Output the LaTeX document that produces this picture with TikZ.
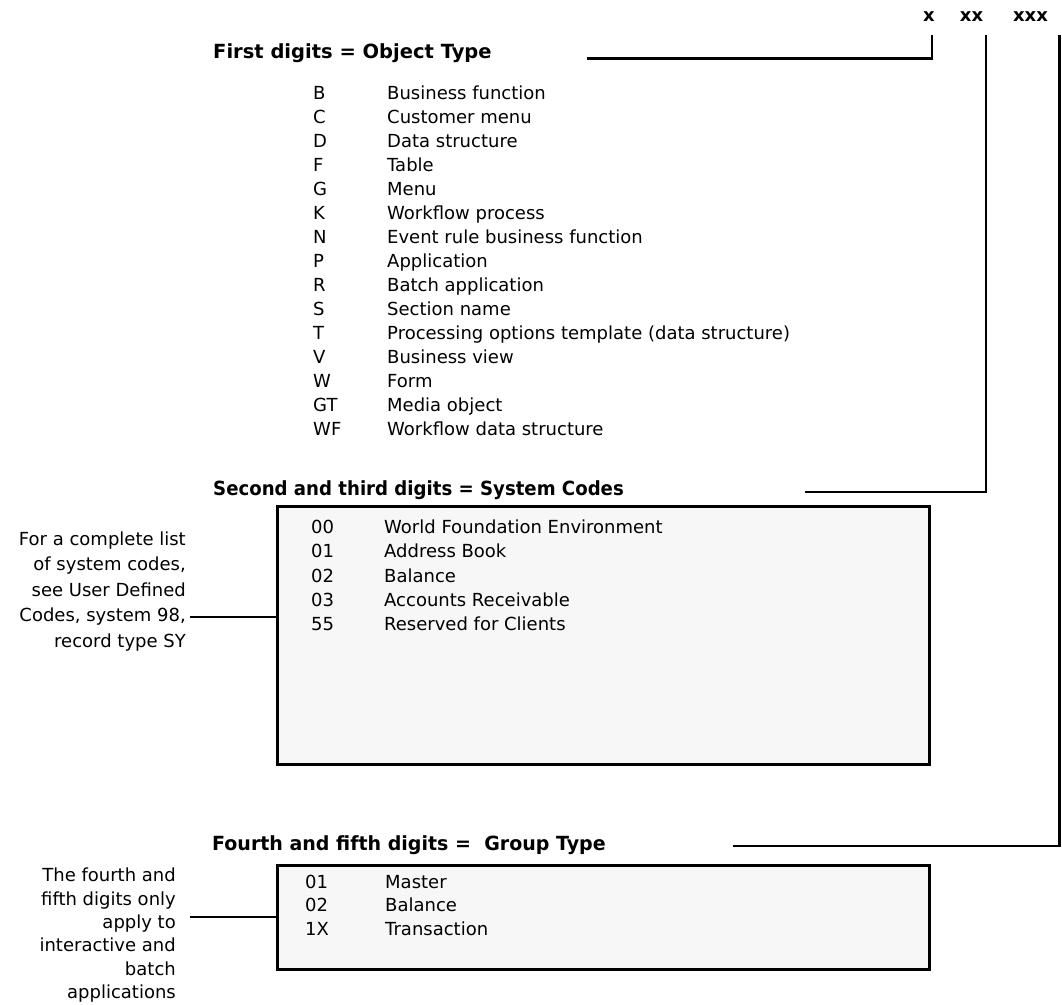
\documentclass[tikz,border=0pt]{standalone}
\usepackage{graphicx}
\usepackage{fontspec}
\setmainfont{DejaVu Sans}
\definecolor{boxgray}{HTML}{F7F7F7}
\tikzset{
  hdr/.style={font=\fontsize{19.5}{24}\selectfont\bfseries, inner sep=0pt, anchor=base west},
  digit/.style={font=\fontsize{18}{24}\selectfont\bfseries, inner sep=0pt, anchor=base},
  body/.style={font=\fontsize{18}{24}\selectfont, inner sep=0pt, anchor=base west},
  note/.style={font=\fontsize{18}{25.5}\selectfont, inner sep=0pt, align=right, anchor=north east},
  panel/.style={draw, line width=2.7pt, fill=boxgray, inner sep=0pt, anchor=north west},
  wire/.style={line width=2.8pt},
}
\begin{document}
\begin{tikzpicture}[x=1pt,y=-1pt]
\fill[white] (0,0) rectangle (1062,1004);
\useasboundingbox (0,0) rectangle (1062,1004);

% digit labels
\node[digit] (xa) at (929,21.7) {x};
\node[digit] (xb) at (971.5,21.7) {xx};
\node[digit] (xc) at (1030.5,21.7) {xxx};
\coordinate (ta) at (932,35);
\coordinate (tb) at (986,35);
\coordinate (tc) at (1059.5,35);

% headers
\node[hdr] (h1) at (213,58) {First digits = Object Type};
\node[hdr] (h2) at (213,495) {\scalebox{0.93}[1]{Second and third digits = System Codes}};
\node[hdr] (h3) at (212,850) {\scalebox{0.975}[1]{Fourth and fifth digits =\ \ Group Type}};
\coordinate (s1) at (587,58.5);
\coordinate (s2) at (805,492);
\coordinate (s3) at (733,846);
\draw[wire] (s1) -| (ta);
\draw[wire] (s2) -| (tb);
\draw[wire] (s3) -| (tc);

% object types
\foreach \c/\d [count=\i from 0] in {B/Business function, C/Customer menu, D/Data structure, F/Table, G/Menu, K/Workflow process, N/Event rule business function, P/Application, R/Batch application, S/Section name, T/Processing options template (data structure), V/Business view, W/Form, GT/Media object, WF/Workflow data structure}{
  \node[body] (oc\i) at (313,{99+24*\i}) {\c};
  \node[body] (od\i) at (387,{99+24*\i}) {\d};
}

% system codes box
\node[panel, minimum width=652pt, minimum height=258pt] (box1) at (276,505) {};
\foreach \c/\d [count=\i from 0] in {00/World Foundation Environment, 01/Address Book, 02/Balance, 03/Accounts Receivable, 55/Reserved for Clients}{
  \node[body] (sc\i) at (311,{533.5+24.3*\i}) {\c};
  \node[body] (sd\i) at (384,{533.5+24.3*\i}) {\d};
}
\node[note] (note1) at (186,531.3) {For a complete list\\of system codes,\\see User Defined\\Codes, system 98,\\record type SY};
\coordinate (n1) at (190,617);
\draw[wire] (n1) -- (n1 -| box1.west);

% group type box
\node[panel, minimum width=652pt, minimum height=104pt] (box2) at (276,864) {};
\foreach \c/\d [count=\i from 0] in {01/Master, 02/Balance, 1X/Transaction}{
  \node[body] (gc\i) at (305,{888+23.5*\i}) {\c};
  \node[body] (gd\i) at (385,{888+23.5*\i}) {\d};
}
\node[note, font=\fontsize{18}{23.3}\selectfont] (note2) at (176,868) {The fourth and\\fifth digits only\\apply to\\interactive and\\batch\\applications};
\coordinate (n2) at (190,917);
\draw[wire] (n2) -- (n2 -| box2.west);
\end{tikzpicture}
\end{document}
